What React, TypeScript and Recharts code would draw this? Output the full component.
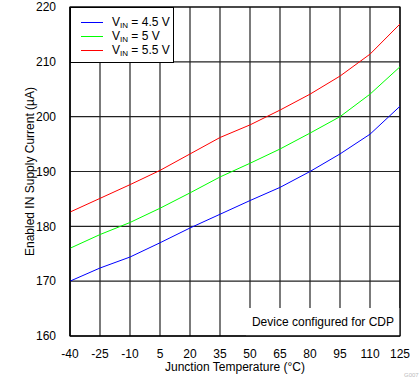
import {
  CartesianGrid,
  Line,
  LineChart,
  ReferenceArea,
  XAxis,
  YAxis,
} from "recharts";

const temps = [-40, -25, -10, 5, 20, 35, 50, 65, 80, 95, 110, 125];
const vin45 = [170.0, 172.4, 174.4, 177.0, 179.7, 182.2, 184.7, 187.1, 190.0, 193.2, 196.8, 201.9];
const vin50 = [176.0, 178.5, 180.7, 183.3, 186.1, 189.0, 191.5, 194.1, 197.0, 200.0, 204.1, 209.1];
const vin55 = [182.6, 185.1, 187.6, 190.2, 193.2, 196.2, 198.5, 201.2, 204.1, 207.4, 211.4, 216.9];
const yTicks = [160, 170, 180, 190, 200, 210, 220];

const seriesInfo = [
  { key: "vin45", color: "#0000ff", label: "4.5 V" },
  { key: "vin50", color: "#00ff00", label: "5 V" },
  { key: "vin55", color: "#ff0000", label: "5.5 V" },
];

const chartData = temps.map((t, i) => ({
  temp: t,
  vin45: vin45[i],
  vin50: vin50[i],
  vin55: vin55[i],
}));

const font = "'Liberation Sans', Arial, sans-serif";

function LegendBox() {
  return (
    <div
      style={{
        position: "absolute",
        left: 70,
        top: 7,
        width: 104,
        height: 56,
        border: "1px solid #000",
        background: "#fff",
        boxSizing: "border-box",
        paddingTop: 7,
        fontFamily: font,
        fontSize: 12,
        color: "#000",
      }}
    >
      {seriesInfo.map((s) => (
        <div key={s.key} style={{ display: "flex", alignItems: "center", height: 14, marginLeft: 10 }}>
          <span style={{ display: "inline-block", width: 22, height: 1, background: s.color }} />
          <span style={{ marginLeft: 9, whiteSpace: "nowrap", lineHeight: "14px" }}>
            V<sub style={{ fontSize: 8, verticalAlign: "-2px", lineHeight: 0 }}>IN</sub> = {s.label}
          </span>
        </div>
      ))}
    </div>
  );
}

export default function App() {
  return (
    <div style={{ position: "absolute", left: 0, top: 0, width: 419, height: 382, background: "#fff" }}>
      <LineChart width={419} height={382} data={chartData} margin={{ top: 7, right: 19, left: 0, bottom: 0 }}>
        <CartesianGrid stroke="#222" strokeWidth={1.2} />
        <ReferenceArea
          x1={48}
          x2={125}
          y1={160}
          y2={165.1}
          fill="#fff"
          fillOpacity={1}
          stroke="none"
          label={{
            value: "Device configured for CDP",
            position: "insideRight",
            offset: 6,
            fill: "#000",
            fontSize: 12,
            fontFamily: font,
          }}
        />
        <ReferenceArea x1={-40} x2={125} y1={160} y2={220} fill="none" stroke="#000" strokeWidth={1.2} />
        <XAxis
          dataKey="temp"
          type="number"
          domain={[-40, 125]}
          ticks={temps}
          interval={0}
          height={46}
          tickLine={false}
          tickMargin={7}
          axisLine={{ stroke: "#000" }}
          tick={{ fill: "#000", fontSize: 12, fontFamily: font }}
          label={{
            value: "Junction Temperature (°C)",
            position: "insideBottom",
            offset: 11,
            fill: "#000",
            fontSize: 12,
            fontFamily: font,
          }}
        />
        <YAxis
          type="number"
          domain={[160, 220]}
          ticks={yTicks}
          interval={0}
          width={70}
          tickLine={false}
          tickMargin={8}
          axisLine={{ stroke: "#000" }}
          tick={{ fill: "#000", fontSize: 12, fontFamily: font }}
          label={{
            value: "Enabled IN Supply Current (µA)",
            angle: -90,
            position: "center",
            dx: -5,
            fill: "#000",
            fontSize: 12,
            fontFamily: font,
          }}
        />
        {seriesInfo.map((s) => (
          <Line
            key={s.key}
            type="linear"
            dataKey={s.key}
            stroke={s.color}
            strokeWidth={1}
            dot={false}
            isAnimationActive={false}
          />
        ))}
      </LineChart>
      <LegendBox />
      <div
        style={{
          position: "absolute",
          left: 404,
          top: 372,
          fontSize: 6,
          color: "#bbb",
          fontFamily: font,
        }}
      >
        G007
      </div>
    </div>
  );
}
